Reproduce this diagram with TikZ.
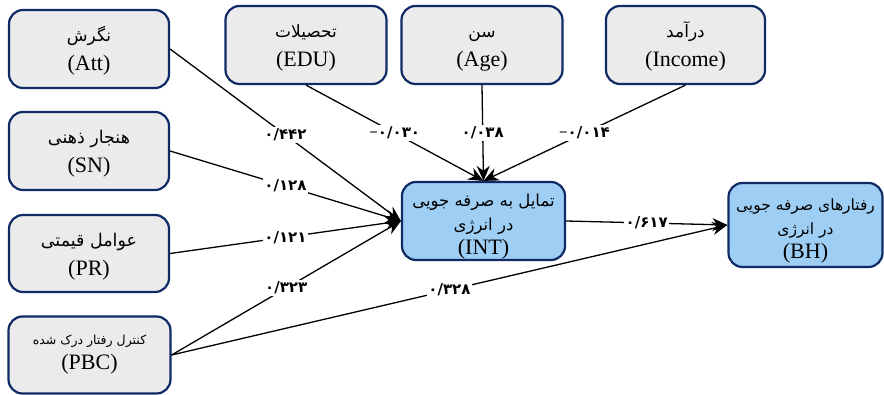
\documentclass[tikz,border=0pt]{standalone}
\usepackage{fontspec}
\setmainfont{Liberation Serif}
\newfontfamily\fa[Script=Arabic]{DejaVu Sans}
\TeXXeTstate=1
\usetikzlibrary{arrows.meta}
\definecolor{navy}{RGB}{16,42,102}
\definecolor{boxgray}{RGB}{235,235,235}
\definecolor{boxblue}{RGB}{158,206,243}
\newcommand{\fsz}[1]{\fa\fontsize{#1}{20}\selectfont}
\newcommand{\negnum}[1]{{\rmfamily\bfseries −}#1}
\begin{document}
\begin{tikzpicture}[x=1pt,y=-1pt,
  var/.style={draw=navy, line width=2.2pt, rounded corners=14pt, fill=boxgray,
    align=center, inner sep=2pt, font=\fontsize{22}{29}\selectfont},
  dep/.style={var, fill=boxblue, inner sep=0pt, font=\fontsize{22}{24}\selectfont},
  path/.style={draw=black, line width=1.3pt, -{Stealth[length=15pt,width=13pt]}},
  coef/.style={fill=white, inner sep=1.5pt, font=\fa\bfseries\fontsize{15}{17}\selectfont}]
\useasboundingbox (0,0) rectangle (884,395);

\node[var, minimum width=160pt, minimum height=78pt] (att) at (89,49)
  {\rule{0pt}{19pt}{\fsz{17}\beginR نگرش\endR}\\(Att)};
\node[var, minimum width=161pt, minimum height=78pt] (edu) at (306,45)
  {\rule{0pt}{19pt}{\fsz{17}\beginR تحصیلات\endR}\\(EDU)};
\node[var, minimum width=161pt, minimum height=78pt] (age) at (482,45)
  {\rule{0pt}{19pt}{\fsz{17}\beginR سن\endR}\\(Age)};
\node[var, minimum width=159pt, minimum height=78pt] (inc) at (685.5,45)
  {\rule{0pt}{19pt}{\fsz{17}\beginR درآمد\endR}\\(Income)};
\node[var, minimum width=160pt, minimum height=78pt] (sn) at (89,151)
  {\rule{0pt}{19pt}{\fsz{17.5}\beginR هنجار ذهنی\endR}\\(SN)};
\node[var, minimum width=160pt, minimum height=77pt] (pr) at (89,253.5)
  {\rule{0pt}{19pt}{\fsz{17.5}\beginR عوامل قیمتی\endR}\\(PR)};
\node[var, minimum width=162pt, minimum height=77pt, font=\fontsize{22}{25}\selectfont] (pbc) at (89.5,355)
  {{\fsz{12.5}\beginR کنترل رفتار درک شده\endR}\\(PBC)};
\node[dep, minimum width=163pt, minimum height=78pt] (int) at (483.5,221)
  {\rule{0pt}{23pt}{\fsz{16.5}\beginR تمایل به صرفه جویی\endR}\\{\fsz{16.5}\beginR در انرژی\endR}\\(INT)};
\node[dep, minimum width=154pt, minimum height=84pt] (bh) at (805.5,225)
  {\rule{0pt}{24pt}{\fsz{15.5}\beginR رفتارهای صرفه جویی\endR}\\{\fsz{15.5}\beginR در انرژی\endR}\\(BH)};

\draw[path] (att.east) -- node[coef] {۰/۴۴۲} (int.west);
\draw[path] (sn.east) -- node[coef] {۰/۱۲۸} (int.west);
\draw[path] (pr.east) -- node[coef] {۰/۱۲۱} (int.west);
\draw[path] (pbc.east) -- node[coef] {۰/۳۲۳} (int.west);
\draw[path] (edu.south) -- node[coef] {\negnum{۰/۰۳۰}} (int.north);
\draw[path] (age.south) -- node[coef] {۰/۰۳۸} (int.north);
\draw[path] (inc.south) -- node[coef] {\negnum{۰/۰۱۴}} (int.north);
\draw[path] (int.east) -- node[coef] {۰/۶۱۷} (bh.west);
\draw[path] (pbc.east) -- node[coef] {۰/۳۲۸} (bh.west);
\end{tikzpicture}
\end{document}
